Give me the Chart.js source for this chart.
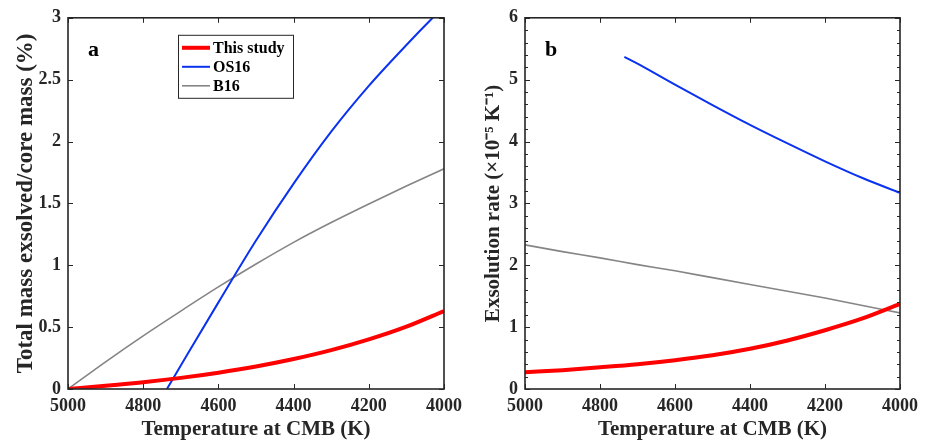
<!DOCTYPE html>
<html>
<head>
<meta charset="utf-8">
<script src="https://cdn.jsdelivr.net/npm/chart.js@4.4.1/dist/chart.umd.min.js"></script>
<style>
  html, body { margin: 0; padding: 0; background: #fff; }
  #wrap { position: relative; width: 928px; height: 442px; }
  #left { position: absolute; left: 0; top: 0; }
  #right { position: absolute; left: 464px; top: 0; }
</style>
</head>
<body>
<div id="wrap">
  <canvas id="left" width="469" height="442"></canvas>
  <canvas id="right" width="464" height="442"></canvas>
</div>
<script>
const SERIES_NAMES = ["This study", "OS16", "B16"];
const SERIES_COLORS = ["#ff0000", "#0a32f0", "#858585"];
const SERIES_WIDTHS = [4, 2, 1.6];

// shared temperature grid (K)
const temps = [5000, 4900, 4800, 4700, 4600, 4500, 4400, 4300, 4200, 4100, 4000];

// panel a: total mass exsolved / core mass (%)
const massThisStudy = [0, 0.026, 0.055, 0.09, 0.132, 0.182, 0.242, 0.314, 0.401, 0.504, 0.63];
const massB16 = [0, 0.22, 0.43, 0.63, 0.825, 1.01, 1.185, 1.345, 1.495, 1.64, 1.78];
const tempsOS16Mass = [4737, 4700, 4600, 4500, 4400, 4300, 4200, 4100, 4030, 4000];
const massOS16 = [0, 0.19, 0.70, 1.20, 1.66, 2.08, 2.45, 2.78, 3.0, 3.09];

// panel b: exsolution rate (x1e-5 / K)
const rateThisStudy = [0.27, 0.305, 0.35, 0.40, 0.465, 0.545, 0.65, 0.785, 0.95, 1.14, 1.375];
const rateB16 = [2.33, 2.22, 2.12, 2.01, 1.91, 1.80, 1.69, 1.58, 1.47, 1.35, 1.23];
const tempsOS16Rate = [4735, 4700, 4600, 4500, 4400, 4300, 4200, 4100, 4000];
const rateOS16 = [5.37, 5.26, 4.92, 4.59, 4.27, 3.97, 3.68, 3.41, 3.17];

const xTitle = "Temperature at CMB (K)";
const yTitleA = "Total mass exsolved/core mass (%)";
const yTitleB = "Exsolution rate (\u00d710\u207b\u2075 K\u207b\u00b9)";

const INK = "#262626";
const FONT = "'Liberation Serif', 'Times New Roman', serif";

function points(xs, ys) {
  return xs.map((x, i) => ({ x: x, y: ys[i] }));
}

function dataset(i, xs, ys) {
  return {
    label: SERIES_NAMES[i],
    data: points(xs, ys),
    borderColor: SERIES_COLORS[i],
    backgroundColor: SERIES_COLORS[i],
    borderWidth: SERIES_WIDTHS[i],
    pointRadius: 0,
    cubicInterpolationMode: "monotone",
    fill: false
  };
}

// box + inward ticks on all four sides, MATLAB style
const frameTicks = {
  id: "frameTicks",
  afterDatasetsDraw(chart) {
    const { ctx, chartArea: a, scales } = chart;
    const x = scales.x, y = scales.y;
    ctx.save();
    ctx.strokeStyle = INK;
    ctx.lineWidth = 1;
    x.ticks.forEach(t => {
      const px = Math.round(x.getPixelForValue(t.value)) + 0.5;
      ctx.beginPath();
      ctx.moveTo(px, a.bottom); ctx.lineTo(px, a.bottom - 5);
      ctx.moveTo(px, a.top); ctx.lineTo(px, a.top + 5);
      ctx.stroke();
    });
    y.ticks.forEach(t => {
      const py = Math.round(y.getPixelForValue(t.value)) + 0.5;
      const len = t.label === "" ? 3 : 5;
      ctx.beginPath();
      ctx.moveTo(a.left, py); ctx.lineTo(a.left + len, py);
      ctx.moveTo(a.right, py); ctx.lineTo(a.right - len, py);
      ctx.stroke();
    });
    ctx.lineWidth = 1.6;
    ctx.strokeRect(a.left, a.top, a.right - a.left, a.bottom - a.top);
    ctx.restore();
  }
};

const panelLetter = {
  id: "panelLetter",
  afterDraw(chart, args, opts) {
    const { ctx, chartArea: a } = chart;
    ctx.save();
    ctx.fillStyle = "#000";
    ctx.font = "bold 22px " + FONT;
    ctx.textBaseline = "middle";
    ctx.fillText(opts.text, a.left + 20, a.top + 33);
    ctx.restore();
  }
};

const boxLegend = {
  id: "boxLegend",
  afterDraw(chart, args, opts) {
    if (!opts.show) return;
    const { ctx, chartArea: a } = chart;
    const left = a.left + 110, top = a.top + 17, w = 115, h = 63;
    ctx.save();
    ctx.fillStyle = "#fff";
    ctx.fillRect(left, top, w, h);
    ctx.strokeStyle = INK;
    ctx.lineWidth = 1;
    ctx.strokeRect(left + 0.5, top + 0.5, w, h);
    ctx.font = "bold 16px " + FONT;
    ctx.textBaseline = "middle";
    chart.data.datasets.forEach((ds, i) => {
      const cy = top + 13 + i * 19;
      ctx.strokeStyle = ds.borderColor;
      ctx.lineWidth = ds.borderWidth;
      ctx.beginPath();
      ctx.moveTo(left + 4, cy);
      ctx.lineTo(left + 32, cy);
      ctx.stroke();
      ctx.fillStyle = "#000";
      ctx.fillText(ds.label, left + 35, cy + 1);
    });
    ctx.restore();
  }
};

function makeChart(id, datasets, opt) {
  return new Chart(document.getElementById(id), {
    type: "line",
    data: { datasets: datasets },
    plugins: [frameTicks, panelLetter, boxLegend],
    options: {
      responsive: false,
      animation: false,
      devicePixelRatio: 1,
      layout: { padding: { left: opt.padLeft, right: opt.padRight, top: 14, bottom: 0 } },
      plugins: {
        legend: { display: false },
        tooltip: { enabled: false },
        panelLetter: { text: opt.letter },
        boxLegend: { show: opt.legend }
      },
      scales: {
        x: {
          type: "linear",
          min: 4000,
          max: 5000,
          reverse: true,
          afterFit: s => { s.height = 53; },
          grid: { display: false, drawTicks: false },
          border: { display: false },
          ticks: {
            stepSize: 200,
            padding: 7,
            color: INK,
            font: { family: FONT, size: 18, weight: "bold" },
            callback: v => String(v)
          },
          title: {
            display: true,
            text: xTitle,
            color: INK,
            padding: { top: 0, bottom: 0 },
            font: { family: FONT, size: 21, weight: "bold" }
          }
        },
        y: {
          type: "linear",
          min: 0,
          max: opt.yMax,
          afterFit: s => { s.width = opt.axisWidth; },
          grid: { display: false, drawTicks: false },
          border: { display: false },
          ticks: {
            stepSize: opt.yStep,
            autoSkip: false,
            padding: 7,
            color: INK,
            font: { family: FONT, size: 18, weight: "bold" },
            callback: opt.yLabel
          },
          title: {
            display: true,
            text: opt.yTitle,
            color: INK,
            padding: { top: 0, bottom: 2 },
            font: { family: FONT, size: opt.yTitleSize, weight: "bold" }
          }
        }
      }
    }
  });
}

makeChart("left", [
  dataset(0, temps, massThisStudy),
  dataset(1, tempsOS16Mass, massOS16),
  dataset(2, temps, massB16)
], {
  letter: "a", legend: true, yMax: 3, yStep: 0.5,
  padLeft: 12, axisWidth: 56, padRight: 16,
  yTitle: yTitleA, yTitleSize: 23,
  yLabel: v => String(v)
});

makeChart("right", [
  dataset(0, temps, rateThisStudy),
  dataset(1, tempsOS16Rate, rateOS16),
  dataset(2, temps, rateB16)
], {
  letter: "b", legend: false, yMax: 6, yStep: 0.2,
  padLeft: 17, axisWidth: 44, padRight: 28,
  yTitle: yTitleB, yTitleSize: 21,
  yLabel: v => (Math.abs(v - Math.round(v)) < 1e-6 ? String(Math.round(v)) : "")
});
</script>
</body>
</html>
